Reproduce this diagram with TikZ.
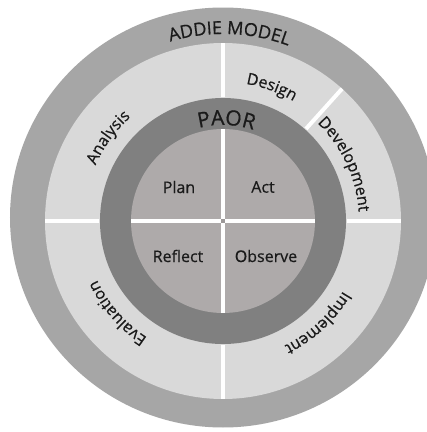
\documentclass[tikz,border=0pt]{standalone}
\usepackage{fontspec}
\setmainfont[FakeBold=0.6,AutoFakeBold=0.6]{Open Sans}
\usetikzlibrary{decorations.text}
\definecolor{outerg}{HTML}{A6A6A6}
\definecolor{lightg}{HTML}{D9D9D9}
\definecolor{darkg}{HTML}{808080}
\definecolor{innerg}{HTML}{AEAAAA}
\definecolor{txt}{HTML}{1A1A1A}
\newcommand{\lblfont}{\fontsize{16}{16}\selectfont}
\newcommand{\ringlabel}[4]{% angle, radius, size, text
  \path[decorate, decoration={text along path, text align=center,
    text={|\fontsize{#3}{#3}\selectfont\color{txt}|#4}}]
    ({#1+50}:#2) arc[start angle={#1+50}, end angle={#1-50}, radius=#2];}
\tikzset{
  divider/.style={draw=white, line width=4pt},
  quadlabel/.style={text=txt, font=\lblfont, inner sep=0pt}
}
\begin{document}
\begin{tikzpicture}[x=1pt,y=1pt]
\clip (-223,-211) rectangle (204,221);
\fill[white] (-223,-211) rectangle (204,221);
% outer ADDIE band
\fill[outerg] (0,3.5) ellipse[x radius=213, y radius=210];
% light sector band
\fill[lightg] (0,0) circle[radius=178];
\draw[divider] (90:124) -- (90:178);
\draw[divider] (48:124) -- (48:178);
\draw[divider] (0:124) -- (0:178);
\draw[divider] (180:124) -- (180:178);
\draw[divider] (270:124) -- (270:178);
% PAOR ring
\fill[darkg] (0,0) circle[radius=123];
% inner circle
\fill[innerg] (0,0) circle[radius=92];
\draw[divider] (-92,0) -- (92,0);
\draw[divider] (0,-92) -- (0,92);
\fill[innerg!90!black] (-2,-2) rectangle (2,2);
% ring labels
\ringlabel{88}{187}{18}{ADDIE MODEL}
\ringlabel{88}{96}{21}{PAOR}
\ringlabel{144}{139}{16}{Analysis}
\ringlabel{70}{139}{16}{Design}
\ringlabel{25}{136}{16}{Development}
\ringlabel{221}{139}{16}{Evaluation}
\ringlabel{313}{139}{16}{Implement}
% quadrant labels
\node[quadlabel] (plan) at (-44,34) {Plan};
\node[quadlabel] (act) at (40,34) {Act};
\node[quadlabel] (reflect) at (-45,-35) {Reflect};
\node[quadlabel] (observe) at (43,-35) {Observe};
\end{tikzpicture}
\end{document}
